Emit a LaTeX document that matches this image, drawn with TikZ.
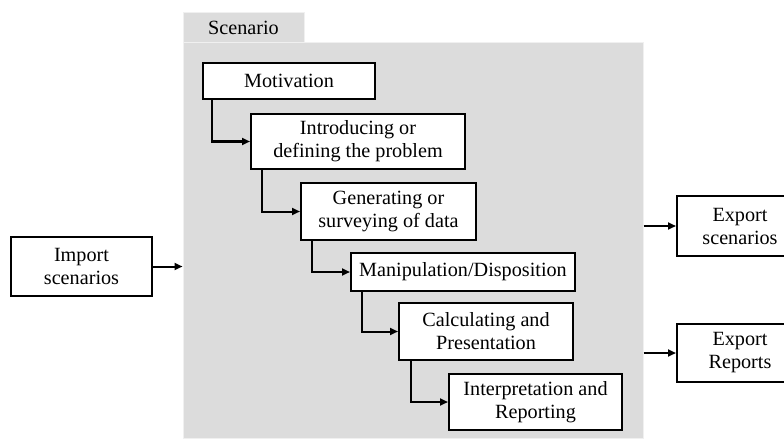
\documentclass[tikz,border=0pt]{standalone}
\usepackage{fontspec}
\setmainfont{Liberation Serif}
\usetikzlibrary{arrows.meta}
\definecolor{panelgray}{RGB}{220,220,220}

\begin{document}
\begin{tikzpicture}[x=1pt,y=-1pt,
  stage/.style={shape=rectangle,draw=black,fill=white,align=center,line width=2pt,inner sep=0pt,font=\fontsize{20.2}{23}\selectfont},
  panel/.style={shape=rectangle,fill=panelgray,draw=black!6,line width=1pt,inner sep=0pt},
  flow/.style={-{Triangle[length=8pt,width=7pt]},draw=black,line width=2pt}]
\useasboundingbox (0,0) rectangle (784,441);
\node[panel,minimum width=121pt,minimum height=30pt,text height=14pt,text depth=-9pt,font=\fontsize{20.2}{23}\selectfont] (tab) at (243.5,28) {Scenario};
\node[panel,minimum width=460pt,minimum height=395pt] (scen) at (413,240.5) {};

\node[stage,minimum width=172pt,minimum height=36pt] (mot) at (289,81) {Motivation};
\node[stage,minimum width=214pt,minimum height=55pt] (intro) at (358,141.5) {Introducing or\\defining the problem};
\node[stage,minimum width=175pt,minimum height=57pt] (gen) at (388.5,211.5) {Generating or\\surveying of data};
\node[stage,minimum width=224pt,minimum height=38pt] (manip) at (463,272) {Manipulation/Disposition};
\node[stage,minimum width=174pt,minimum height=57pt] (calc) at (486,331.5) {Calculating and\\Presentation};
\node[stage,minimum width=173pt,minimum height=56pt] (interp) at (535.5,402) {Interpretation and\\Reporting};

\node[stage,minimum width=141pt,minimum height=59pt] (import) at (81.5,266.5) {Import\\scenarios};
\node[stage,minimum width=126pt,minimum height=60pt] (expsc) at (740,226) {Export\\scenarios};
\node[stage,minimum width=126pt,minimum height=58pt] (exprep) at (740,353) {Export\\Reports};

\draw[flow] ([xshift=10pt]mot.south west) |- (intro.west);
\draw[flow] ([xshift=12pt]intro.south west) |- (gen.west);
\draw[flow] ([xshift=12pt]gen.south west) |- (manip.west);
\draw[flow] ([xshift=12pt]manip.south west) |- (calc.west);
\draw[flow] ([xshift=13pt]calc.south west) |- (interp.west);

\draw[flow] (import.east) -- (import.east -| scen.west);
\draw[flow] (scen.east |- expsc.west) -- (expsc.west);
\draw[flow] (scen.east |- exprep.west) -- (exprep.west);
\end{tikzpicture}
\end{document}
